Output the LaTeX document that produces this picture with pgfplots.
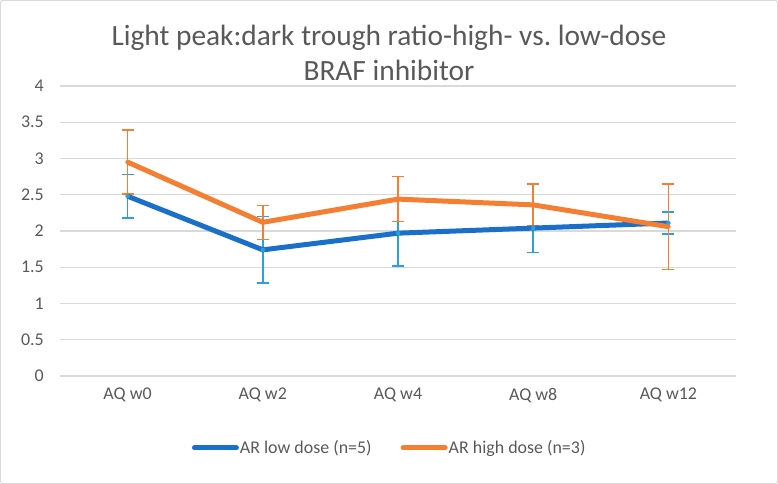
\documentclass[border=0pt]{standalone}
\usepackage{pgfplots}
\pgfplotsset{compat=1.18}
\usepackage{pgfplotstable}
\usepackage{fontspec}
\setmainfont{Carlito}
\frenchspacing
\definecolor{txtgray}{HTML}{595959}
\definecolor{gridgray}{HTML}{D9D9D9}
\definecolor{bline}{HTML}{1A70C8}
\definecolor{berr}{HTML}{2AA0DC}
\definecolor{oline}{HTML}{F47F32}
\definecolor{oerr}{HTML}{F47F32}

\pgfplotstableread{
x y e
0 2.48 0.30
1 1.74 0.46
2 1.97 0.45
3 2.04 0.34
4 2.11 0.15
}\lowdose
\pgfplotstableread{
x y e
0 2.95 0.44
1 2.12 0.235
2 2.44 0.31
3 2.36 0.29
4 2.06 0.59
}\highdose

\begin{document}
\begin{tikzpicture}
\draw[gridgray, line width=1bp, rounded corners=2bp] (0.5bp,0.5bp) rectangle (777.5bp,483.5bp);
\node[align=center, text=txtgray, font=\fontsize{29.5}{34.5}\selectfont] at (389bp,431bp)
  {Light peak:dark trough ratio-high- vs. low-dose\\BRAF inhibitor};
\begin{axis}[
  at={(60bp,108bp)}, anchor=south west,
  scale only axis, width=676bp, height=290bp,
  xmin=-0.5, xmax=4.5, ymin=0, ymax=4,
  ytick={0,0.5,1,1.5,2,2.5,3,3.5,4},
  xtick={0,1,2,3,4},
  xticklabels={AQ w0,AQ w2,AQ w4,AQ w8,AQ w12},
  ymajorgrids,
  grid style={draw=gridgray, line width=1.3bp},
  axis line style={draw=none},
  major tick length=0pt,
  /pgf/number format/assume math mode=true,
  tick label style={font=\fontsize{18}{21}\selectfont, text=txtgray},
  yticklabel style={anchor=east, inner sep=0pt, xshift=-16bp},
  xticklabel style={anchor=north, inner sep=0pt, yshift=-12bp},
  legend style={at={(rel axis cs:0.487,-0.248)}, anchor=center, draw=none, fill=none,
    legend columns=2, font=\fontsize{18}{21}\selectfont, text=txtgray,
    nodes={inner xsep=1bp},
    /tikz/every even column/.append style={column sep=28bp}},
  legend cell align=left,
  legend image code/.code={\draw[#1, line width=5bp, line cap=round] (0bp,0bp) -- (42bp,0bp);},
]
\addplot[forget plot, only marks, mark=none, berr,
  error bars/.cd, y dir=both, y explicit, error mark=|,
  error bar style={line width=1.5bp, berr},
  error mark options={line width=1.5bp, mark size=6bp, berr}]
  table[x=x, y=y, y error=e] {\lowdose};
\addplot[forget plot, only marks, mark=none, oerr,
  error bars/.cd, y dir=both, y explicit, error mark=|,
  error bar style={line width=1.5bp, oerr},
  error mark options={line width=1.5bp, mark size=6bp, oerr}]
  table[x=x, y=y, y error=e] {\highdose};
\addplot[bline, line width=5bp, mark=none, line join=round] table[x=x, y=y] {\lowdose};
\addlegendentry{AR low dose (n=5)}
\addplot[oline, line width=5bp, mark=none, line join=round] table[x=x, y=y] {\highdose};
\addlegendentry{AR high dose (n=3)}
\end{axis}
\end{tikzpicture}
\end{document}
